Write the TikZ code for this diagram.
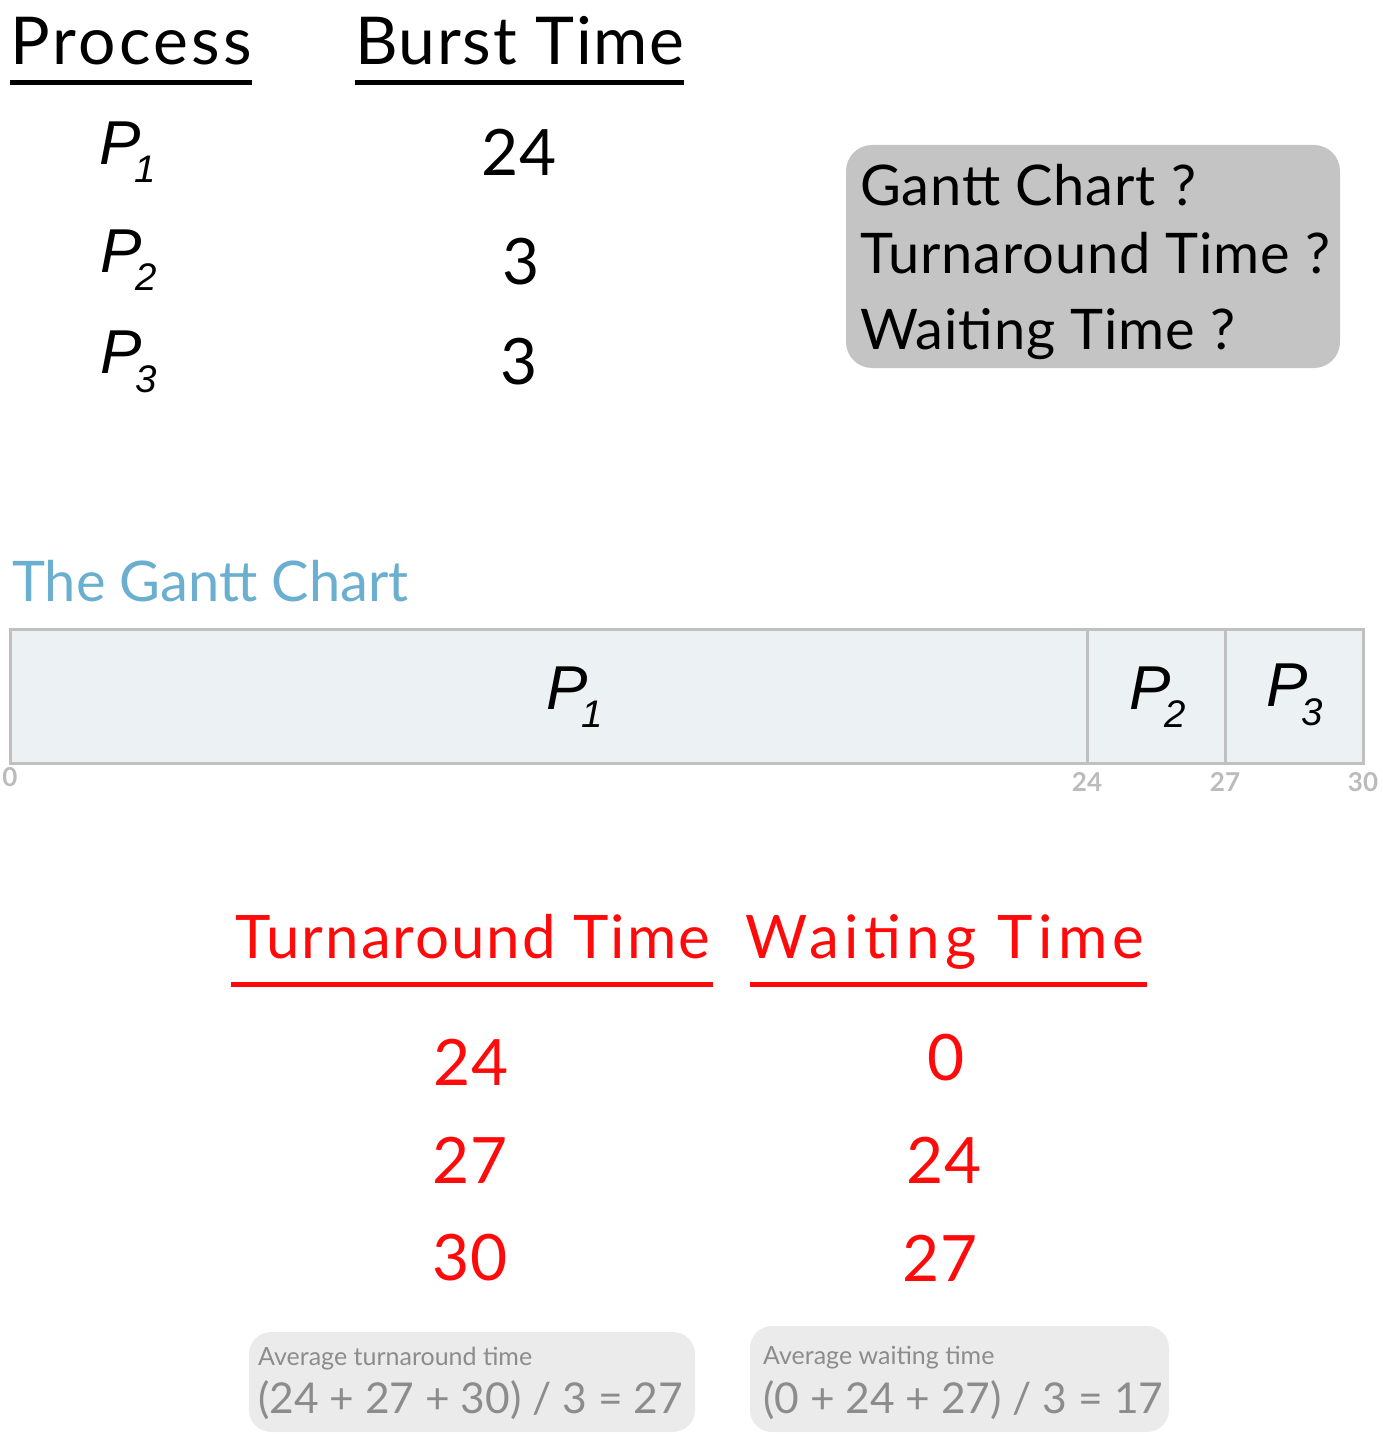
\documentclass[tikz,border=0pt]{standalone}
\usepackage{fontspec}
\setmainfont{Lato}
\newfontfamily\pfont{Liberation Sans}[ItalicFont={Liberation Sans Italic}]
\definecolor{tblue}{HTML}{6AAED0}
\definecolor{tred}{HTML}{FF0A0A}
\definecolor{qgray}{HTML}{C4C4C4}
\definecolor{agray}{HTML}{EBEBEB}
\definecolor{atext}{HTML}{8C8C8C}
\definecolor{gfill}{HTML}{ECF1F4}
\definecolor{gline}{HTML}{C0C0C0}
\definecolor{ticktext}{HTML}{BBBBBB}
\newcommand{\Pn}[2]{{\pfont\itshape\fontsize{#1}{#1}\selectfont P\kern-0.1em\raisebox{-0.3em}{\fontsize{0.62\dimexpr#1\relax}{1}\selectfont #2}}}
\newcommand{\ls}[2]{{\addfontfeatures{LetterSpace=#1}#2}}
\tikzset{
  head/.style={font=\fontsize{66}{66}\selectfont, anchor=base west, inner sep=0pt},
  big/.style={font=\fontsize{64}{64}\selectfont, inner sep=0pt},
  redhead/.style={head, text=tred, font=\fontsize{60}{60}\selectfont},
  rednum/.style={big, text=tred},
  qtext/.style={font=\fontsize{56}{56}\selectfont, anchor=base west, inner sep=0pt},
  tick/.style={font=\bfseries\fontsize{26}{26}\selectfont, text=ticktext, inner sep=0pt},
  cell/.style={draw=gline, line width=3pt, fill=gfill},
  avgsmall/.style={font=\fontsize{25}{25}\selectfont, text=atext, anchor=base west, inner sep=0pt},
  avgbig/.style={font=\fontsize{42.5}{42.5}\selectfont, text=atext, anchor=base west, inner sep=0pt},
}
\begin{document}
\begin{tikzpicture}[x=1pt,y=-1pt]
\useasboundingbox (0,0) rectangle (1383,1434);
% headers
\node[head] (hproc) at (10,65) {\ls{5}{Process}};
\node[head] (hburst) at (355,65) {\ls{2.6}{Burst Time}};
\draw[line width=5pt] (10,83) -- (252,83);
\draw[line width=5pt] (355,83) -- (684,83);
% process table
\node[inner sep=0pt] (p1) at (128,152) {\Pn{62pt}{1}};
\node[inner sep=0pt] (p2) at (129,260) {\Pn{62pt}{2}};
\node[inner sep=0pt] (p3) at (129,362) {\Pn{62pt}{3}};
\node[big] (b1) at (519,152) {24};
\node[big] (b2) at (521,262) {3};
\node[big] (b3) at (519,362) {3};
% question box
\fill[qgray, rounded corners=26pt] (846,145) rectangle (1340,368);
\node[qtext] (q1) at (860,205) {\ls{1.5}{Gantt Chart ?}};
\node[qtext] (q2) at (860,273) {\ls{1.5}{Turnaround Time ?}};
\node[qtext] (q3) at (860,349) {\ls{1.5}{Waiting Time ?}};
% gantt
\node[font=\fontsize{56}{56}\selectfont, text=tblue, anchor=base west, inner sep=0pt] (gtitle) at (12,601) {The Gantt Chart};
\draw[cell] (10,629) rectangle (1087,763);
\draw[cell] (1087,629) rectangle (1225,763);
\draw[cell] (1225,629) rectangle (1363,763);
\node[inner sep=0pt] (g1) at (575,697) {\Pn{62pt}{1}};
\node[inner sep=0pt] (g2) at (1158,697) {\Pn{62pt}{2}};
\node[inner sep=0pt] (g3) at (1295,695) {\Pn{62pt}{3}};
\node[tick] (t0) at (10,777) {0};
\node[tick] (t24) at (1087,782) {24};
\node[tick] (t27) at (1225,782) {27};
\node[tick] (t30) at (1363,782) {30};
% results
\node[redhead] (rt) at (235,958) {\ls{3.3}{Turnaround Time}};
\node[redhead] (rw) at (745,958) {\ls{9}{Waiting Time}};
\draw[tred, line width=5pt] (231,984) -- (713,984);
\draw[tred, line width=5pt] (750,984) -- (1147,984);
\node[rednum] (ta) at (471,1062) {24};
\node[rednum] (tb) at (470,1160) {27};
\node[rednum] (tc) at (470,1258) {30};
\node[rednum] (wa) at (946,1058) {0};
\node[rednum] (wb) at (944,1160) {24};
\node[rednum] (wc) at (940,1258) {27};
% averages
\fill[agray, rounded corners=22pt] (249,1332) rectangle (695,1432);
\fill[agray, rounded corners=22pt] (750,1326) rectangle (1169,1432);
\node[avgsmall] (at1) at (258,1365) {Average turnaround time};
\node[avgbig] (at2) at (258,1413) {(24 + 27 + 30) / 3 = 27};
\node[avgsmall] (aw1) at (763,1364) {Average waiting time};
\node[avgbig] (aw2) at (763,1413) {(0 + 24 + 27) / 3 = 17};
\end{tikzpicture}
\end{document}
